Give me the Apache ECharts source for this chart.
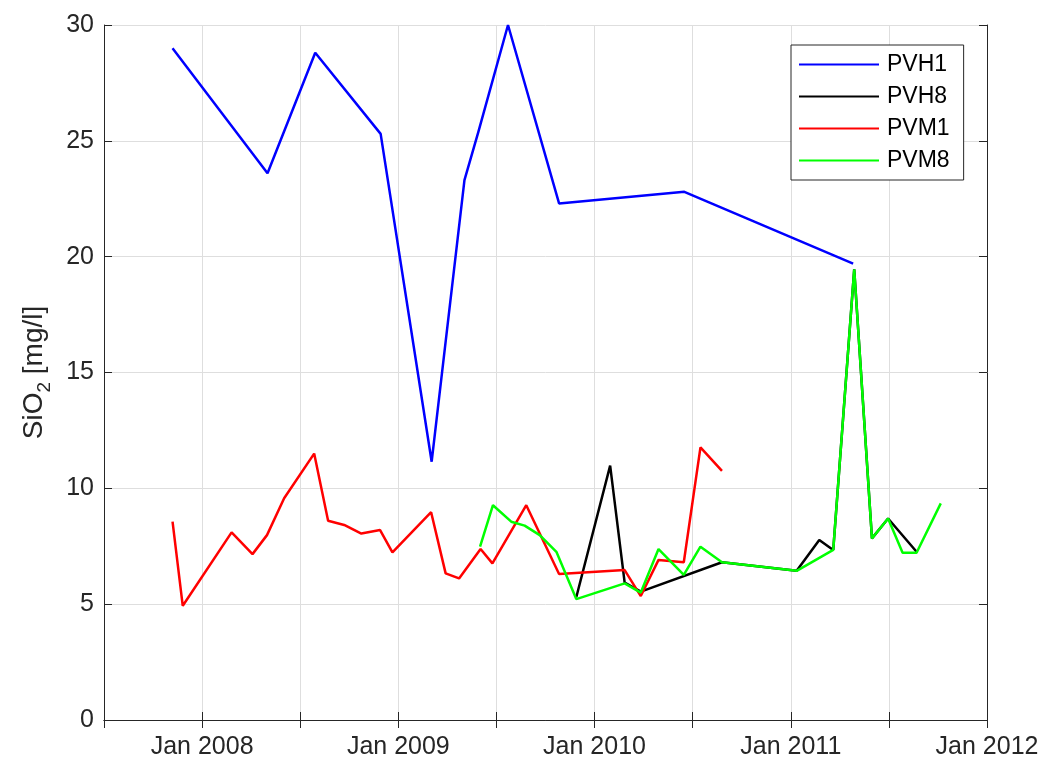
<!DOCTYPE html>
<html>
<head>
<meta charset="utf-8">
<script src="https://cdn.jsdelivr.net/npm/echarts@6/dist/echarts.min.js"></script>
<style>
html,body{margin:0;padding:0;background:#fff;}
#chart{width:1046px;height:761px;}
</style>
</head>
<body>
<div id="chart"></div>
<script>
// ---- data ----
const seriesNames = ['PVH1', 'PVH8', 'PVM1', 'PVM8'];

const pvh1Dates = ['2007-11-07','2008-05-02','2008-07-30','2008-11-29','2009-03-04','2009-05-04','2009-05-30','2009-07-24','2009-10-27','2010-06-17','2011-04-27'];
const pvh1Values = [29.0, 23.6, 28.8, 25.3, 11.15, 23.3, 25.4, 30.0, 22.3, 22.8, 19.7];

const pvh8Dates = ['2009-11-28','2010-01-30','2010-02-26','2010-03-28','2010-08-26','2011-01-12','2011-02-23','2011-03-21','2011-04-29','2011-06-01','2011-07-01','2011-08-23'];
const pvh8Values = [5.3, 10.98, 5.93, 5.54, 6.81, 6.44, 7.77, 7.34, 19.45, 7.84, 8.70, 7.26];

const pvm1Dates = ['2007-11-07','2007-11-26','2008-02-25','2008-04-04','2008-05-01','2008-06-02','2008-07-28','2008-08-23','2008-09-22','2008-10-24','2008-11-28','2008-12-21','2009-03-03','2009-03-30','2009-04-24','2009-06-03','2009-06-25','2009-08-27','2009-10-27','2010-02-26','2010-03-28','2010-04-30','2010-06-16','2010-07-17','2010-08-26'];
const pvm1Values = [8.56, 4.93, 8.10, 7.16, 7.98, 9.57, 11.5, 8.60, 8.42, 8.05, 8.20, 7.24, 8.97, 6.33, 6.11, 7.38, 6.76, 9.27, 6.30, 6.47, 5.35, 6.91, 6.81, 11.77, 10.75];

const pvm8Dates = ['2009-06-02','2009-06-26','2009-07-30','2009-08-24','2009-09-21','2009-10-22','2009-11-28','2010-02-26','2010-03-28','2010-04-30','2010-06-16','2010-07-17','2010-08-26','2011-01-12','2011-03-21','2011-04-29','2011-06-01','2011-07-01','2011-07-28','2011-08-23','2011-10-07'];
const pvm8Values = [7.48, 9.27, 8.56, 8.39, 7.98, 7.26, 5.22, 5.90, 5.50, 7.38, 6.26, 7.48, 6.81, 6.44, 7.34, 19.45, 7.84, 8.70, 7.22, 7.22, 9.35];

const yTicks = [0, 5, 10, 15, 20, 25, 30];
const xTickLabelYears = [2008, 2009, 2010, 2011, 2012];

// ---- helpers ----
function toYear(s) {
  const d = Date.parse(s + 'T00:00:00Z');
  const y = new Date(d).getUTCFullYear();
  const a = Date.UTC(y, 0, 1), b = Date.UTC(y + 1, 0, 1);
  return y + (d - a) / (b - a);
}
function pairs(dates, vals) { return dates.map((d, i) => [toYear(d), vals[i]]); }

const FONT = '"Liberation Sans", Arial, Helvetica, sans-serif';
const TXT = '#262626';
const colors = ['#0000ff', '#000000', '#ff0000', '#00ff00'];
const dataSets = [pairs(pvh1Dates, pvh1Values), pairs(pvh8Dates, pvh8Values), pairs(pvm1Dates, pvm1Values), pairs(pvm8Dates, pvm8Values)];

const chart = echarts.init(document.getElementById('chart'), null, {renderer: 'canvas'});

const tickStyle = {show: true, inside: true, length: 8, lineStyle: {color: TXT, width: 1}};
const lineAx = {show: true, lineStyle: {color: TXT, width: 1}};

chart.setOption({
  animation: false,
  backgroundColor: '#ffffff',
  textStyle: {fontFamily: FONT},
  grid: {left: 104, right: 59, top: 25, bottom: 41, containLabel: false},
  legend: {
    data: seriesNames,
    orient: 'vertical',
    left: 791, top: 45,
    padding: [8, 14, 8, 8],
    icon: 'rect',
    itemWidth: 80, itemHeight: 2, itemGap: 9,
    borderColor: TXT, borderWidth: 1, backgroundColor: '#ffffff',
    textStyle: {fontSize: 23, color: '#000000', fontFamily: FONT, padding: [0, 0, 0, 3]}
  },
  xAxis: [{
    type: 'value', min: 2007.5, max: 2012, interval: 0.5,
    axisLine: lineAx, axisTick: tickStyle,
    splitLine: {show: true, lineStyle: {color: '#dedede', width: 1}},
    axisLabel: {
      fontSize: 25, color: TXT, fontFamily: FONT, margin: 15, showMaxLabel: true,
      formatter: function (v) {
        const r = Math.round(v);
        return (Math.abs(v - r) < 1e-6 && xTickLabelYears.indexOf(r) >= 0) ? 'Jan ' + r : '';
      }
    }
  }, {
    type: 'value', position: 'top', min: 2007.5, max: 2012, interval: 0.5,
    axisLine: lineAx, axisTick: tickStyle, axisLabel: {show: false}, splitLine: {show: false}
  }],
  yAxis: [{
    type: 'value', min: yTicks[0], max: yTicks[yTicks.length - 1], interval: 5,
    axisLine: lineAx, axisTick: tickStyle,
    splitLine: {show: true, lineStyle: {color: '#dedede', width: 1}},
    axisLabel: {fontSize: 25, color: TXT, fontFamily: FONT, margin: 10},
    name: '{a|SiO}{b|2}{a| [mg/l]}',
    nameLocation: 'middle', nameRotate: 90, nameGap: 52,
    nameTextStyle: {
      rich: {
        a: {fontSize: 28, color: TXT, fontFamily: FONT, lineHeight: 32, verticalAlign: 'top'},
        b: {fontSize: 19, color: TXT, fontFamily: FONT, lineHeight: 32, verticalAlign: 'top', padding: [15, 0, 0, 0]}
      }
    }
  }, {
    type: 'value', position: 'right', min: 0, max: 30, interval: 5,
    axisLine: lineAx, axisTick: tickStyle, axisLabel: {show: false}, splitLine: {show: false}
  }],
  series: seriesNames.map((n, i) => ({
    name: n, type: 'line', data: dataSets[i],
    xAxisIndex: 0, yAxisIndex: 0,
    symbol: 'none', showSymbol: false,
    lineStyle: {color: colors[i], width: 2.5},
    itemStyle: {color: colors[i]},
    emphasis: {disabled: true}
  }))
});
</script>
</body>
</html>
